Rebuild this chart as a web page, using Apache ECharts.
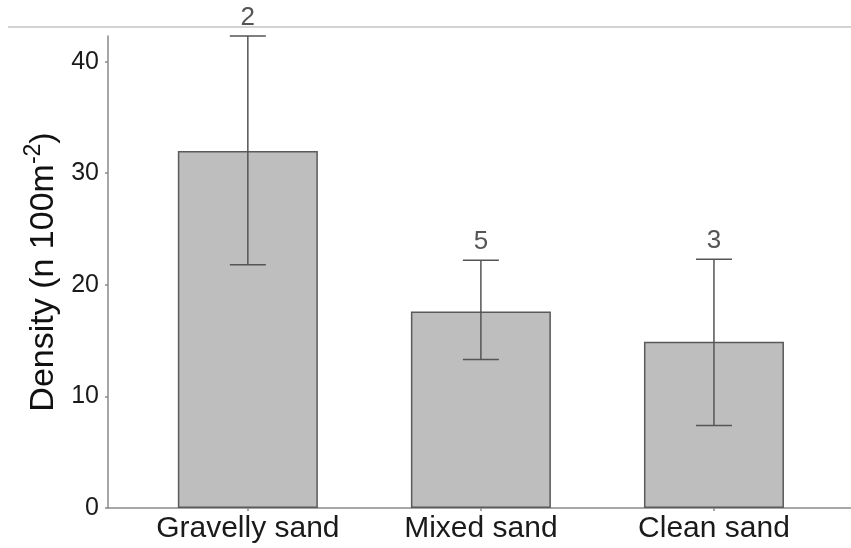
<!DOCTYPE html>
<html>
<head>
<meta charset="utf-8">
<script src="https://cdn.jsdelivr.net/npm/echarts@6/dist/echarts.min.js"></script>
<style>
  html, body { margin: 0; padding: 0; background: #fff; }
  #density_bar { width: 851px; height: 548px; }
</style>
</head>
<body>
<div id="density_bar"></div>
<script>
// values
const categories = ["Gravelly sand", "Mixed sand", "Clean sand"];
const density = [32.0, 17.6, 14.9];
const err_low = [21.8, 13.3, 7.4];
const err_high = [42.3, 22.2, 22.3];
const n_labels = ["2", "5", "3"];
const y_ticks = [0, 10, 20, 30, 40];

let font = "Liberation Sans, Arial, sans-serif";
let bar_data = density.map((v, i) => [i + 1, v]);
let err_data = density.map((v, i) => [i + 1, err_low[i], err_high[i], n_labels[i]]);

let chart = echarts.init(document.getElementById("density_bar"));
chart.setOption({
    animation: false,
    grid: { left: 108, right: 0, top: 36, bottom: 40 },
    graphic: [
        {
            type: "line",
            shape: { x1: 8, y1: 27, x2: 851, y2: 27 },
            style: { stroke: "#c4c4c4", lineWidth: 1.5 }
        }
    ],
    xAxis: {
        type: "value",
        min: 0.4,
        max: 3.588,
        splitLine: { show: false },
        axisLine: { show: true, lineStyle: { color: "#8a8a8a", width: 1.5 } },
        axisTick: { show: true, length: 3, customValues: [1, 2, 3], lineStyle: { color: "#8a8a8a", width: 1.5 } },
        axisLabel: {
            customValues: [1, 2, 3],
            formatter: v => categories[Math.round(v) - 1],
            color: "#1a1a1a",
            fontFamily: font,
            fontSize: 30,
            margin: 6
        }
    },
    yAxis: {
        type: "value",
        min: 0,
        max: 42.3,
        name: "Density (n 100m{sup|-2})",
        nameLocation: "middle",
        nameGap: 40,
        nameTextStyle: {
            color: "#111",
            fontFamily: font,
            fontSize: 34,
            rich: {
                sup: { fontSize: 23, verticalAlign: "top", padding: [0, 0, 20, 0], color: "#111", fontFamily: font }
            }
        },
        splitLine: { show: false },
        axisLine: { show: true, lineStyle: { color: "#8a8a8a", width: 1.5 } },
        axisTick: { show: true, length: 3, customValues: y_ticks, lineStyle: { color: "#8a8a8a", width: 1.5 } },
        axisLabel: {
            customValues: y_ticks,
            color: "#1a1a1a",
            fontFamily: font,
            fontSize: 25,
            margin: 9
        }
    },
    series: [
        {
            type: "bar",
            data: bar_data,
            barWidth: 140,
            itemStyle: { color: "#bebebe", borderColor: "#5a5a5a", borderWidth: 1.5 }
        },
        {
            type: "custom",
            data: err_data,
            z: 5,
            renderItem: function(params, api) {
                let lo = api.coord([api.value(0), api.value(1)]);
                let hi = api.coord([api.value(0), api.value(2)]);
                let cap = 18;
                let st = { stroke: "#555", lineWidth: 1.5 };
                return {
                    type: "group",
                    children: [
                        { type: "line", shape: { x1: lo[0], y1: lo[1], x2: hi[0], y2: hi[1] }, style: st },
                        { type: "line", shape: { x1: lo[0] - cap, y1: lo[1], x2: lo[0] + cap, y2: lo[1] }, style: st },
                        { type: "line", shape: { x1: hi[0] - cap, y1: hi[1], x2: hi[0] + cap, y2: hi[1] }, style: st },
                        {
                            type: "text",
                            x: hi[0],
                            y: hi[1] - 5,
                            style: {
                                text: n_labels[params.dataIndex],
                                fill: "#555",
                                font: "26px " + font,
                                align: "center",
                                verticalAlign: "bottom"
                            }
                        }
                    ]
                };
            }
        }
    ]
});
window.addEventListener("resize", function() {
    chart.resize();
});
</script>
</body>
</html>
